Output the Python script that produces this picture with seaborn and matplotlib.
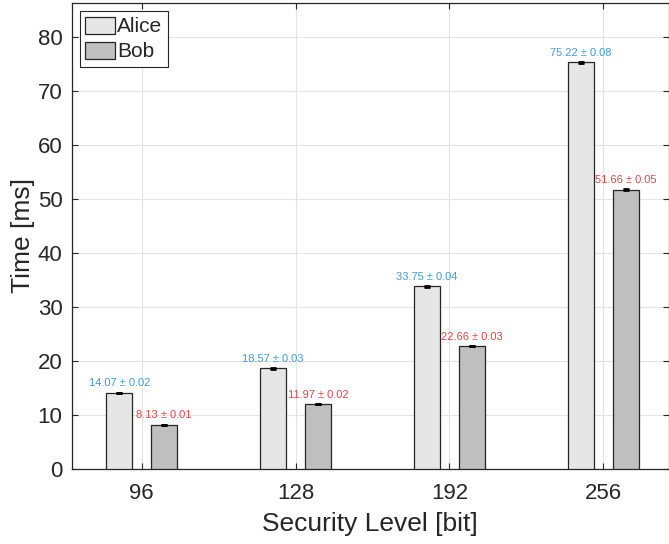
import matplotlib
matplotlib.use("Agg")
import matplotlib.pyplot as plt
import seaborn as sns
import pandas as pd

levels = ["96", "128", "192", "256"]
alice_ms = [14.07, 18.57, 33.75, 75.22]
alice_err = [0.02, 0.03, 0.04, 0.08]
bob_ms = [8.13, 11.97, 22.66, 51.66]
bob_err = [0.01, 0.02, 0.03, 0.05]

sns.set_theme(style="whitegrid")
plt.rcParams['font.family'] = ['Liberation Sans', 'DejaVu Sans']

df = pd.DataFrame({
    'level': levels * 2,
    'time': alice_ms + bob_ms,
    'who': ['Alice'] * 4 + ['Bob'] * 4,
})

fig = plt.figure(figsize=(6.69, 5.44), dpi=100)
ax = fig.add_axes([0.107, 0.1384, 0.893, 0.856])

sns.barplot(data=df, x='level', y='time', hue='who', order=levels,
            palette={'Alice': '#e6e6e6', 'Bob': '#bfbfbf'},
            width=0.58, gap=0.414, edgecolor='#262626', linewidth=0.9,
            errorbar=None, ax=ax, zorder=3)

# error bars (tiny), drawn at the dodged bar centres
off = 0.145
xs = list(range(len(levels)))
ax.errorbar([x - off for x in xs], alice_ms, yerr=alice_err, fmt='none',
            ecolor='black', elinewidth=1, capsize=2.3, capthick=2, zorder=4)
ax.errorbar([x + off for x in xs], bob_ms, yerr=bob_err, fmt='none',
            ecolor='black', elinewidth=1, capsize=2.3, capthick=2, zorder=4)

for x, v, e in zip(xs, alice_ms, alice_err):
    ax.text(x - off, v + 0.8, f"{v:.2f} ± {e:.2f}", ha='center', va='bottom',
            fontsize=8, color='#3d9be0')
for x, v, e in zip(xs, bob_ms, bob_err):
    ax.text(x + off, v + 0.8, f"{v:.2f} ± {e:.2f}", ha='center', va='bottom',
            fontsize=8, color='#e04545')

ax.set_xlim(-0.455, 3.426)
ax.set_ylim(0, 86.2)
ax.set_yticks(range(0, 90, 10))
ax.grid(True, axis='both', color='#e3e3e3', linewidth=0.8)
ax.set_axisbelow(True)
for s in ax.spines.values():
    s.set_visible(True)
    s.set_color('#262626')
    s.set_linewidth(0.9)
ax.set_facecolor('white')
ax.tick_params(direction='in', length=4, width=0.8, colors='#262626',
               labelsize=16, top=True, right=True, bottom=True, left=True,
               labelcolor='#262626')
ax.tick_params(axis='y', pad=6.5)
ax.tick_params(axis='x', pad=10)
ax.set_xlabel('Security Level [bit]', fontsize=19, color='#262626', labelpad=6)
ax.set_ylabel('Time [ms]', fontsize=19, color='#262626', labelpad=2)

leg = ax.legend(loc='upper left', fontsize=15, frameon=True, fancybox=False,
                edgecolor='#262626', borderaxespad=0.4, handlelength=1.45,
                handleheight=0.9, handletextpad=0.1, borderpad=0.25,
                labelspacing=0.25, title=None)
leg.get_frame().set_linewidth(0.8)
leg.get_frame().set_alpha(1)

fig.savefig('out.png', dpi=100)
